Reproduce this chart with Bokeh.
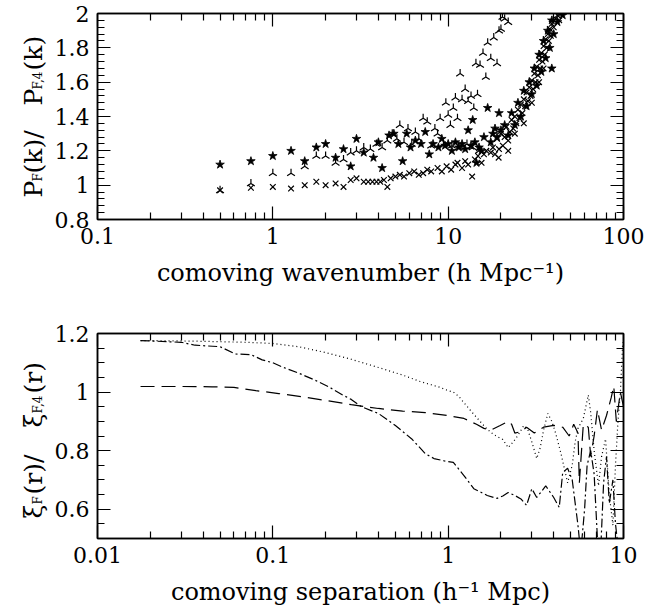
import math
from bokeh.plotting import figure
from bokeh.layouts import column, row
from bokeh.models import (FixedTicker, SingleIntervalTicker, CustomJSTickFormatter,
                          LogAxis, LinearAxis, Range1d)
from bokeh.core.properties import value
from bokeh.embed import file_html
from bokeh.resources import INLINE

FONT = "DejaVu Serif"

# ---------------- data: top panel (power spectrum ratio) ----------------
k_tri = [0.5, 0.75, 1.0, 1.27, 1.52, 1.77, 2.0, 2.28, 2.53, 2.78, 3.0, 3.3, 3.6, 3.9,
         4.2, 4.5, 4.8, 5.1, 5.3, 5.6, 5.9, 6.2, 6.5, 6.8, 7.2, 7.6, 8.0, 8.4, 8.7, 9.0,
         9.4, 9.7, 10.0, 10.3, 10.5, 10.7, 11.0, 11.3, 11.5, 11.7, 12.0, 12.5, 12.8, 13.0,
         13.5, 13.8, 14.0, 14.4, 14.7, 15.0, 15.2, 15.8, 16.4, 16.8, 17.5, 18.2, 19.0,
         19.5, 20.0, 20.4, 21.0, 22.0]
pk_tri = [0.97, 1.01, 1.07, 1.07, 1.11, 1.17, 1.17, 1.13, 1.15, 1.19, 1.20, 1.22, 1.21, 1.24,
          1.22, 1.26, 1.30, 1.27, 1.35, 1.25, 1.33, 1.24, 1.31, 1.27, 1.39, 1.37, 1.23, 1.33, 1.30, 1.39,
          1.24, 1.48, 1.41, 1.35, 1.23, 1.45, 1.51, 1.39, 1.22, 1.65, 1.50, 1.56, 1.24, 1.49,
          1.52, 1.22, 1.45, 1.71, 1.53, 1.20, 1.70, 1.77, 1.63, 1.83, 1.74, 1.86, 1.71,
          1.90, 1.91, 1.98, 1.97, 1.95]

k_star = [0.5, 0.75, 1.0, 1.27, 1.52, 1.77, 2.0, 2.28, 2.53, 2.78, 3.0, 3.3, 3.75, 4.0,
          4.2, 4.6, 4.9, 5.2, 5.5, 5.8, 6.1, 6.5, 7.0, 7.4, 7.8, 8.2, 8.8, 9.2, 9.6, 10.0,
          10.5, 11.0, 11.5, 12.0, 12.5, 13.0, 13.5, 13.8, 14.2, 14.5, 15.0, 15.5, 16.0,
          16.8, 17.5, 18.0, 18.5, 19.0, 19.5, 20.0, 21.0, 22.0, 23.0, 24.0, 25.0, 26.0,
          27.0, 28.0, 29.0, 30.0, 31.0, 32.0, 33.0, 34.0, 35.0, 36.0, 37.0, 38.0, 39.0,
          39.0, 40.0, 42.0, 45.0]
pk_star = [1.12, 1.14, 1.17, 1.20, 1.14, 1.22, 1.24, 1.16, 1.21, 1.11, 1.27, 1.19, 1.16, 1.25,
           1.10, 1.29, 1.30, 1.24, 1.14, 1.30, 1.22, 1.26, 1.24, 1.31, 1.18, 1.24, 1.22, 1.27, 1.23, 1.24,
           1.20, 1.25, 1.22, 1.24, 1.21, 1.32, 1.23, 1.38, 1.25, 1.13, 1.22, 1.20, 1.28,
           1.45, 1.25, 1.30, 1.33, 1.28, 1.42, 1.32, 1.35, 1.29, 1.42, 1.35, 1.48, 1.40,
           1.55, 1.46, 1.60, 1.53, 1.68, 1.58, 1.76, 1.66, 1.84, 1.74, 1.90, 1.80, 1.96,
           1.68, 1.88, 1.95, 1.99]

k_cross = [0.5, 0.75, 1.0, 1.27, 1.52, 1.77, 2.0, 2.28, 2.53, 2.78, 3.0, 3.3, 3.5, 3.7,
           3.9, 4.1, 4.3, 4.5, 4.7, 5.0, 5.3, 5.6, 6.0, 6.4, 6.8, 7.2, 7.6, 8.0, 8.7, 9.2,
           9.8, 10.4, 11.0, 11.3, 12.0, 12.5, 13.0, 13.7, 14.2, 14.8, 15.5, 16.0, 16.5,
           17.5, 18.0, 18.5, 19.0, 19.4, 19.5, 20.0, 20.5, 21.0, 21.5, 22.0, 22.0, 22.5,
           23.0, 23.5, 24.0, 24.0, 24.5, 25.0, 25.5, 26.0, 26.5, 27.0, 27.0, 27.5, 28.0,
           28.5, 29.0, 29.5, 30.0, 30.0, 30.5, 31.0, 31.5, 32.0, 32.5, 33.0, 33.0, 33.5,
           34.0, 34.5, 35.0, 35.0, 35.5, 36.0, 36.5, 37.0, 37.5, 38.0, 38.5, 39.0, 40.0,
           41.0, 42.0, 43.0, 44.0]
pk_cross = [0.97, 0.985, 0.99, 0.98, 1.00, 1.02, 1.00, 1.01, 0.99, 1.03, 1.04, 1.02, 1.02, 1.02,
            1.02, 1.02, 1.03, 0.99, 1.04, 1.05, 1.06, 1.05, 1.07, 1.08, 1.06, 1.07, 1.09, 1.08, 1.10, 1.08,
            1.11, 1.09, 1.12, 1.13, 1.10, 1.14, 1.12, 1.05, 1.15, 1.17, 1.13, 1.18, 1.20,
            1.19, 1.22, 1.18, 1.27, 1.16, 1.21, 1.30, 1.23, 1.28, 1.34, 1.26, 1.20, 1.31,
            1.38, 1.33, 1.40, 1.30, 1.36, 1.44, 1.39, 1.47, 1.42, 1.50, 1.36, 1.46, 1.54,
            1.49, 1.57, 1.52, 1.61, 1.48, 1.56, 1.65, 1.60, 1.69, 1.64, 1.73, 1.60, 1.68,
            1.77, 1.72, 1.81, 1.68, 1.76, 1.85, 1.80, 1.88, 1.84, 1.91, 1.87, 1.94, 1.92,
            1.97, 1.99, 1.96, 2.00]

# ---------------- data: bottom panel (correlation function ratio) ----------------
r_dot = [0.0176, 0.025, 0.035, 0.05, 0.07, 0.1, 0.14, 0.2, 0.28, 0.4, 0.55, 0.7, 0.8, 0.9,
         1.0, 1.07, 1.15, 1.23, 1.35, 1.47, 1.6, 1.75, 1.9, 2.05, 2.2, 2.35, 2.5, 2.7, 2.85,
         3.0, 3.2, 3.35, 3.5, 3.7, 3.9, 4.1, 4.4, 4.8, 5.1, 5.3, 5.5, 5.9, 6.3, 6.5, 6.8,
         7.2, 7.5, 7.9, 8.3, 8.7, 9.0, 9.3, 9.6, 9.9]
xi_dot = [1.176, 1.175, 1.174, 1.172, 1.170, 1.166, 1.155, 1.135, 1.112, 1.084, 1.058, 1.035, 1.025, 1.016,
          1.005, 1.0, 0.985, 0.964, 0.935, 0.91, 0.885, 0.862, 0.848, 0.838, 0.81, 0.83, 0.852, 0.886, 0.87,
          0.83, 0.773, 0.81, 0.87, 0.927, 0.90, 0.86, 0.79, 0.69, 0.75, 0.83, 0.876, 0.91, 0.99, 0.93, 0.80,
          0.68, 0.78, 0.84, 0.65, 0.545, 0.75, 0.90, 1.0, 1.17]

r_dash = [0.0176, 0.03, 0.045, 0.06, 0.08, 0.108, 0.15, 0.208, 0.28, 0.4, 0.55, 0.74, 0.99,
          1.23, 1.45, 1.6, 1.75, 1.98, 2.2, 2.3, 2.4, 2.6, 2.8, 3.1, 3.5, 4.0, 4.5, 4.9, 5.2,
          5.5, 5.6, 5.9, 6.3, 6.5, 6.8, 7.1, 7.5, 8.0, 8.5, 8.8, 9.1, 9.6, 10.0]
xi_dash = [1.019, 1.019, 1.018, 1.016, 1.005, 0.995, 0.983, 0.97, 0.957, 0.944, 0.935, 0.93, 0.92,
           0.91, 0.89, 0.876, 0.87, 0.886, 0.90, 0.89, 0.86, 0.865, 0.88, 0.86, 0.88, 0.886, 0.88, 0.85, 0.89,
           0.86, 0.69, 0.89, 0.88, 0.78, 0.85, 0.94, 0.87, 0.92, 0.98, 1.02, 0.90, 1.0, 0.95]

r_dd = [0.0176, 0.03, 0.036, 0.05, 0.061, 0.075, 0.087, 0.1, 0.114, 0.14, 0.175, 0.21, 0.25,
        0.28, 0.32, 0.40, 0.50, 0.62, 0.74, 0.83, 0.95, 1.07, 1.23, 1.4, 1.67, 1.9, 2.05, 2.2,
        2.4, 2.6, 2.8, 3.0, 3.2, 3.4, 3.6, 4.0, 4.3, 4.5, 4.8, 5.1, 5.5, 5.7, 6.0, 6.2, 6.5,
        6.8, 7.1, 7.4, 7.7, 8.0, 8.3, 8.7, 9.0, 9.4, 9.8]
xi_dd = [1.176, 1.17, 1.16, 1.155, 1.13, 1.128, 1.11, 1.10, 1.085, 1.065, 1.04, 1.017, 0.99,
         0.975, 0.95, 0.927, 0.886, 0.84, 0.79, 0.773, 0.765, 0.76, 0.715, 0.67, 0.647, 0.637, 0.645, 0.657,
         0.647, 0.635, 0.613, 0.67, 0.64, 0.66, 0.68, 0.64, 0.606, 0.725, 0.74, 0.70, 0.545, 0.45, 0.60, 0.75, 0.80,
         0.72, 0.50, 0.45, 0.69, 0.78, 0.62, 0.70, 0.55, 0.45, 0.40]

# tick values
k_major = [0.1, 1, 10, 100]
k_minor = [0.2, 0.3, 0.4, 0.5, 0.6, 0.7, 0.8, 0.9, 2, 3, 4, 5, 6, 7, 8, 9,
           20, 30, 40, 50, 60, 70, 80, 90]
r_major = [0.01, 0.1, 1, 10]
r_minor = [0.02, 0.03, 0.04, 0.05, 0.06, 0.07, 0.08, 0.09, 0.2, 0.3, 0.4, 0.5, 0.6,
           0.7, 0.8, 0.9, 2, 3, 4, 5, 6, 7, 8, 9]
xi_major = [0.6, 0.8, 1.0, 1.2]
xi_minor = [0.5, 0.55, 0.65, 0.7, 0.75, 0.85, 0.9, 0.95, 1.05, 1.1, 1.15]

# y-axis label pieces: (text, font px, is_subscript)
ylab_top = [("P", 25, False), ("F", 12, True), ("(k)/", 25, False),
            ("P", 25, False), ("F,4", 12, True), ("(k)", 25, False)]
ylab_bot = [("\u03be", 25, False), ("F", 12, True), ("(r)/", 25, False),
            ("\u03be", 25, False), ("F,4", 12, True), ("(r)", 25, False)]
# start of each piece along the label, in page pixels from the top
ylab_top_pos = [197, 181, 173, 105, 89, 70]
ylab_bot_pos = [518, 504, 494, 427, 413, 393]

NUM_FMT = "return String(parseFloat(tick.toPrecision(6)));"
BLANK = "return '';"


def style_axis(ax, labels=True):
    ax.axis_line_color = "black"
    ax.axis_line_width = 1.5
    ax.major_tick_line_color = "black"
    ax.minor_tick_line_color = "black"
    ax.major_tick_line_width = 1.2
    ax.minor_tick_line_width = 1.2
    ax.major_tick_in = 13
    ax.major_tick_out = 0
    ax.minor_tick_in = 7
    ax.minor_tick_out = 0
    ax.major_label_text_font = FONT
    ax.major_label_text_font_size = "22px"
    ax.major_label_text_color = "black"
    ax.major_label_standoff = 8
    ax.axis_label_text_font = FONT
    ax.axis_label_text_font_style = "normal"
    ax.axis_label_text_font_size = "24px"
    ax.axis_label_text_color = "black"
    ax.axis_label_standoff = 12
    if labels:
        ax.formatter = CustomJSTickFormatter(code=NUM_FMT)
    else:
        ax.formatter = CustomJSTickFormatter(code=BLANK)
        ax.major_label_standoff = 0


LAB_W = 50


def make_fig(height, xr, yr, top, bottom):
    p = figure(width=646 - LAB_W, height=height, x_axis_type="log", x_range=xr, y_range=yr,
               output_backend="svg", toolbar_location=None, title=None,
               min_border_left=97 - LAB_W, min_border_right=23, min_border_top=top,
               min_border_bottom=bottom)
    p.xgrid.visible = False
    p.ygrid.visible = False
    p.outline_line_color = "black"
    p.outline_line_width = 1.5
    p.background_fill_color = "white"
    p.border_fill_color = "white"
    return p


def label_fig(height, pieces, positions, frame_top, frame_bottom):
    # the frame of this strip is aligned with the neighbouring plot frame, so its
    # vertical range is expressed directly in page pixels (top to bottom)
    q = figure(width=LAB_W, height=height, x_range=(0, LAB_W),
               y_range=Range1d(start=frame_bottom, end=frame_top),
               output_backend="svg", toolbar_location=None, title=None,
               x_axis_location=None, y_axis_location=None,
               min_border=0, min_border_left=0, min_border_right=0,
               min_border_top=0, min_border_bottom=0)
    q.outline_line_color = None
    q.background_fill_color = "white"
    q.border_fill_color = "white"
    q.grid.visible = False
    for (text, size, sub), pos in zip(pieces, positions):
        q.text(x=[37 if sub else 32.5], y=[pos], text=[text],
               angle=math.pi / 2, text_font=value(FONT), text_font_size=value(f"{size}px"),
               text_align="left", text_baseline="alphabetic", text_color="black")
    return q


# ---------------- top figure ----------------
p1 = make_fig(300, (0.1, 100), (0.8, 2.0), 13, 81)
xt1 = FixedTicker(ticks=k_major, minor_ticks=k_minor)
yt1 = SingleIntervalTicker(interval=0.2, num_minor_ticks=5)
ax = p1.below[0]
ax.ticker = xt1
style_axis(ax)
ax.axis_label = "comoving wavenumber (h Mpc\u207b\u00b9)"
ay = p1.left[0]
ay.ticker = yt1
style_axis(ay)
ax_top = LogAxis(ticker=xt1)
style_axis(ax_top, labels=False)
p1.add_layout(ax_top, "above")
ay_r = LinearAxis(ticker=yt1)
style_axis(ay_r, labels=False)
p1.add_layout(ay_r, "right")

p1.scatter(k_cross, pk_cross, marker="x", size=8, line_color="black", line_width=1.2)
p1.scatter(k_tri, pk_tri, marker="y", size=9, angle=math.pi, line_color="black", line_width=1.2)
p1.scatter(k_star, pk_star, marker="star", size=9, fill_color="black", line_color="black",
           line_width=0.8)

l1 = label_fig(300, ylab_top, ylab_top_pos, 13, 219)

# ---------------- bottom figure ----------------
p2 = make_fig(308, (0.01, 10), (0.5, 1.2), 33, 70)
xt2 = FixedTicker(ticks=r_major, minor_ticks=r_minor)
yt2 = FixedTicker(ticks=xi_major, minor_ticks=xi_minor)
bx = p2.below[0]
bx.ticker = xt2
style_axis(bx)
bx.axis_label = "comoving separation (h\u207b\u00b9 Mpc)"
by = p2.left[0]
by.ticker = yt2
style_axis(by)
bx_top = LogAxis(ticker=xt2)
style_axis(bx_top, labels=False)
p2.add_layout(bx_top, "above")
by_r = LinearAxis(ticker=yt2)
style_axis(by_r, labels=False)
p2.add_layout(by_r, "right")

p2.line(r_dot, xi_dot, line_color="black", line_width=1.2, line_dash="1 3")
p2.line(r_dash, xi_dash, line_color="black", line_width=1.2, line_dash="14 7")
p2.line(r_dd, xi_dd, line_color="black", line_width=1.2, line_dash="9 3 2 3")

l2 = label_fig(308, ylab_bot, ylab_bot_pos, 333, 538)

layout = column(row(l1, p1, spacing=0), row(l2, p2, spacing=0), spacing=0)
open("out.html", "w").write(file_html(layout, INLINE))
